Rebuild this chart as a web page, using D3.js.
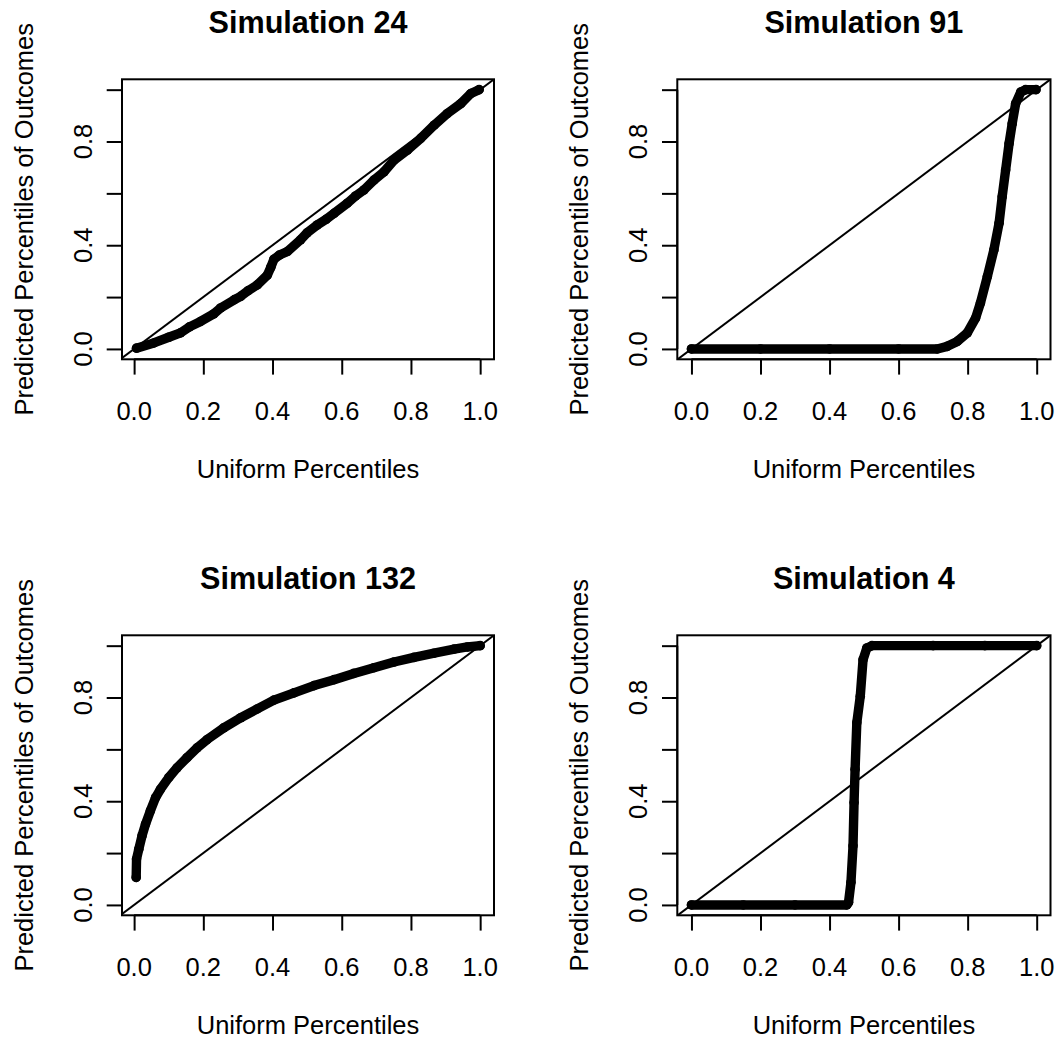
<!DOCTYPE html>
<html>
<head>
<meta charset="utf-8">
<script src="https://cdn.jsdelivr.net/npm/d3@7"></script>
<style>
  html, body { margin: 0; padding: 0; background: #fff; }
  svg { display: block; }
  text { font-family: "Liberation Sans", Arial, Helvetica, sans-serif; fill: #000; }
</style>
</head>
<body>
<script>
// Axis ticks and labels
const xTicks = [0, 0.2, 0.4, 0.6, 0.8, 1.0];
const yTicks = [0, 0.2, 0.4, 0.6, 0.8, 1.0];
const xTickLabels = ["0.0", "0.2", "0.4", "0.6", "0.8", "1.0"];
const yTickLabels = ["0.0", "", "0.4", "", "0.8", ""];   // crowded labels are skipped
const titles = ["Simulation 24", "Simulation 91", "Simulation 132", "Simulation 4"];
const xLabel = "Uniform Percentiles";
const yLabel = "Predicted Percentiles of Outcomes";

// Simulation 24: uniform percentile vs predicted percentile
const sim24X = [0.007, 0.057, 0.100, 0.134, 0.160, 0.192, 0.230, 0.250, 0.290, 0.308, 0.330, 0.356, 0.385, 0.395, 0.404, 0.420, 0.443,
                0.481, 0.500, 0.529, 0.555, 0.578, 0.616, 0.640, 0.664, 0.693, 0.722, 0.751, 0.790, 0.828, 0.867, 0.905, 0.944, 0.973, 0.997];
const sim24Y = [0.003, 0.023, 0.045, 0.062, 0.085, 0.106, 0.135, 0.158, 0.190, 0.203, 0.225, 0.247, 0.285, 0.315, 0.346, 0.362, 0.376,
                0.421, 0.448, 0.478, 0.500, 0.523, 0.562, 0.590, 0.613, 0.651, 0.683, 0.728, 0.767, 0.812, 0.863, 0.908, 0.946, 0.985, 1.000];

// Simulation 91
const sim91X = [0.000, 0.200, 0.400, 0.600, 0.712, 0.741, 0.770, 0.799, 0.823, 0.837, 0.857, 0.876, 0.891,
                0.900, 0.910, 0.920, 0.929, 0.939, 0.954, 0.968, 0.998];
const sim91Y = [0.000, 0.000, 0.000, 0.000, 0.000, 0.010, 0.029, 0.062, 0.119, 0.177, 0.279, 0.382, 0.485,
                0.587, 0.690, 0.792, 0.869, 0.946, 0.991, 1.000, 1.000];

// Simulation 132
const sim132X = [0.006, 0.007, 0.0135, 0.023, 0.033, 0.047, 0.062, 0.076, 0.100, 0.124, 0.153, 0.182, 0.211,
                 0.259, 0.308, 0.356, 0.404, 0.462, 0.520, 0.578, 0.635, 0.693, 0.751, 0.809, 0.867, 0.925, 0.963, 1.000];
const sim132Y = [0.106, 0.177, 0.215, 0.267, 0.312, 0.363, 0.414, 0.446, 0.491, 0.529, 0.568, 0.606, 0.638,
                 0.683, 0.722, 0.756, 0.790, 0.818, 0.846, 0.869, 0.893, 0.915, 0.937, 0.955, 0.971, 0.987, 0.995, 1.000];

// Simulation 4
const sim4X = [0.000, 0.150, 0.300, 0.450, 0.455, 0.462, 0.468, 0.471, 0.474, 0.479, 0.489, 0.497, 0.508,
               0.523, 0.700, 0.850, 1.000];
const sim4Y = [0.000, 0.000, 0.000, 0.000, 0.010, 0.087, 0.228, 0.395, 0.523, 0.703, 0.805, 0.946, 0.991,
               1.000, 1.000, 1.000, 1.000];

const seriesX = [sim24X, sim91X, sim132X, sim4X];
const seriesY = [sim24Y, sim91Y, sim132Y, sim4Y];

// Panel geometry (plot boxes) and user-coordinate ranges
const W = 1057, H = 1040;
const boxes = [
  { x0: 122,   x1: 494,    y0: 79.3,  y1: 359.3, xUsr: [-0.035, 1.04] },
  { x0: 677.3, x1: 1050.5, y0: 79.3,  y1: 359.3, xUsr: [-0.041, 1.04] },
  { x0: 122,   x1: 494,    y0: 635.3, y1: 915.3, xUsr: [-0.035, 1.04] },
  { x0: 677.3, x1: 1050.5, y0: 635.3, y1: 915.3, xUsr: [-0.041, 1.04] }
];
const yUsr = [-0.04, 1.04];
const tickLen = 15.3;
const axisFont = 25.5, titleFont = 30.6;
const lw = 2;

const svg = d3.select("body").append("svg").attr("width", W).attr("height", H);
svg.append("rect").attr("width", W).attr("height", H).attr("fill", "#fff");

boxes.forEach((b, i) => {
  const x = d3.scaleLinear().domain(b.xUsr).range([b.x0, b.x1]);
  const y = d3.scaleLinear().domain(yUsr).range([b.y1, b.y0]);
  const g = svg.append("g");

  const clipId = "clip" + i;
  g.append("clipPath").attr("id", clipId)
    .append("rect").attr("x", b.x0).attr("y", b.y0)
    .attr("width", b.x1 - b.x0).attr("height", b.y1 - b.y0);

  // observed points drawn as heavy dots joined into a band
  const pts = seriesX[i].map((v, k) => [v, seriesY[i][k]]);
  const line = d3.line().x(d => x(d[0])).y(d => y(d[1]));
  g.append("path").datum(pts)
    .attr("d", line)
    .attr("fill", "none").attr("stroke", "#000")
    .attr("stroke-width", 9.4)
    .attr("stroke-linecap", "round").attr("stroke-linejoin", "round");
  g.selectAll("circle.pt").data(pts).join("circle")
    .attr("class", "pt")
    .attr("cx", d => x(d[0])).attr("cy", d => y(d[1]))
    .attr("r", 4.8).attr("fill", "#000");

  // 45-degree reference line
  const lo = Math.min(b.xUsr[0], yUsr[0]), hi = Math.max(b.xUsr[1], yUsr[1]);
  g.append("line")
    .attr("clip-path", `url(#${clipId})`)
    .attr("x1", x(lo)).attr("y1", y(lo))
    .attr("x2", x(hi)).attr("y2", y(hi))
    .attr("stroke", "#000").attr("stroke-width", lw);

  // frame
  g.append("rect")
    .attr("x", b.x0).attr("y", b.y0)
    .attr("width", b.x1 - b.x0).attr("height", b.y1 - b.y0)
    .attr("fill", "none").attr("stroke", "#000").attr("stroke-width", lw);

  // bottom axis
  const xAxis = d3.axisBottom(x).tickValues(xTicks).tickSize(tickLen).tickSizeOuter(0).tickFormat("");
  const gx = g.append("g").attr("transform", `translate(0,${b.y1})`).call(xAxis);
  gx.select(".domain").attr("d", `M${x(xTicks[0])},0H${x(xTicks[xTicks.length - 1])}`)
    .attr("stroke-width", lw);
  gx.selectAll(".tick line").attr("stroke-width", lw);
  g.selectAll("text.xt").data(xTicks).join("text")
    .attr("class", "xt")
    .attr("x", d => x(d)).attr("y", b.y1 + 61)
    .attr("text-anchor", "middle").attr("font-size", axisFont)
    .text((d, k) => xTickLabels[k]);

  // left axis
  const yAxis = d3.axisLeft(y).tickValues(yTicks).tickSize(tickLen).tickSizeOuter(0).tickFormat("");
  const gy = g.append("g").attr("transform", `translate(${b.x0},0)`).call(yAxis);
  gy.select(".domain").attr("d", `M0,${y(yTicks[0])}V${y(yTicks[yTicks.length - 1])}`)
    .attr("stroke-width", lw);
  gy.selectAll(".tick line").attr("stroke-width", lw);
  g.selectAll("text.yt").data(yTicks.filter((d, k) => yTickLabels[k] !== "")).join("text")
    .attr("class", "yt")
    .attr("transform", d => `translate(${b.x0 - 30},${y(d)}) rotate(-90)`)
    .attr("text-anchor", "middle").attr("font-size", axisFont)
    .text(d => yTickLabels[yTicks.indexOf(d)]);

  // titles
  const cx = (b.x0 + b.x1) / 2, cy = (b.y0 + b.y1) / 2;
  g.append("text").attr("x", cx).attr("y", b.y0 - 46.3)
    .attr("text-anchor", "middle").attr("font-size", titleFont).attr("font-weight", "bold")
    .text(titles[i]);
  g.append("text").attr("x", cx).attr("y", b.y1 + 119)
    .attr("text-anchor", "middle").attr("font-size", axisFont)
    .text(xLabel);
  g.append("text")
    .attr("transform", `translate(${b.x0 - 89},${cy}) rotate(-90)`)
    .attr("text-anchor", "middle").attr("font-size", axisFont)
    .text(yLabel);
});
</script>
</body>
</html>
